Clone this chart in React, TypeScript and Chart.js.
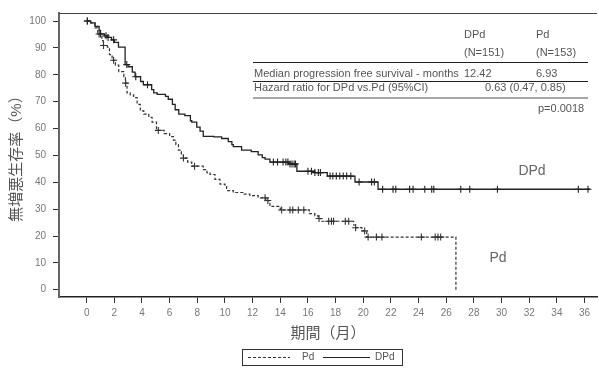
import React, { useEffect, useRef } from 'react';
import { Chart, registerables } from 'chart.js';

Chart.register(...registerables);

const FONT = '"Liberation Sans", "Noto Sans CJK JP", Arial, sans-serif';

// ---- data ----
const xTickValues = [0, 2, 4, 6, 8, 10, 12, 14, 16, 18, 20, 22, 24, 26, 28, 30, 32, 34, 36];
const yTickValues = [0, 10, 20, 30, 40, 50, 60, 70, 80, 90, 100];

const dpdLabel = 'DPd';
const pdLabel = 'Pd';

const dpdTimes = [0, 0.3, 0.6, 0.9, 1.0, 1.3, 1.5, 1.8, 2.0, 2.3, 2.78, 3.0, 3.3, 3.5, 3.9, 4.1, 4.7, 4.85, 5.1, 5.7, 5.9, 6.2, 6.4, 6.66, 7.1, 7.5, 7.6, 7.96, 8.2, 8.43, 9.2, 9.76, 10.24, 10.5, 10.6, 11.2, 11.9, 12.4, 12.7, 12.9, 13.25, 14.6, 15.2, 16.5, 17.4, 19.4, 21.07, 36.4];
const dpdSurv = [100, 99.3, 98.0, 96.5, 95.2, 94.5, 93.9, 93.0, 92.1, 90.3, 83.8, 83.0, 81.0, 79.3, 77.5, 76.3, 74.5, 73.3, 72.7, 72.0, 70.9, 69.0, 67.0, 65.4, 64.8, 62.9, 62.4, 60.5, 59.0, 57.1, 56.9, 56.3, 55.1, 54.0, 53.3, 52.0, 51.4, 50.2, 49.2, 48.6, 47.5, 46.8, 44.1, 43.6, 42.3, 40.1, 37.4, 37.4];
const dpdCensored = [0.05, 1.0, 1.4, 1.55, 1.95, 2.9, 3.55, 4.4, 13.5, 13.8, 14.2, 14.4, 14.55, 14.7, 14.85, 15.0, 15.1, 16.0, 16.25, 16.5, 16.75, 16.9, 17.6, 17.8, 18.05, 18.3, 18.55, 18.8, 19.1, 19.7, 20.6, 20.8, 21.4, 22.15, 22.35, 23.35, 23.6, 24.45, 24.95, 25.1, 27.05, 27.7, 29.7, 35.55, 36.25];

const pdTimes = [0, 0.3, 0.6, 0.8, 1.1, 1.2, 1.5, 1.65, 1.84, 2.08, 2.32, 2.69, 2.8, 2.92, 3.15, 3.4, 3.65, 3.88, 4.13, 4.49, 4.73, 5.05, 5.6, 6.0, 6.27, 6.45, 6.63, 6.85, 6.99, 7.3, 7.6, 8.43, 8.7, 8.92, 9.28, 9.64, 10.0, 10.12, 10.6, 11.3, 11.8, 12.4, 12.95, 13.25, 13.4, 14.0, 16.1, 16.5, 16.75, 17.0, 19.3, 19.45, 19.9, 20.25, 26.7];
const pdSurv = [100, 99.3, 97.5, 95.2, 92.7, 90.9, 90.3, 87.5, 85.4, 83.6, 81.2, 79.3, 76.9, 73.3, 72.5, 71.5, 69.0, 66.6, 65.4, 64.2, 62.4, 59.3, 58.1, 57.0, 55.7, 54.0, 52.0, 50.5, 49.0, 47.5, 46.0, 44.7, 43.5, 42.9, 41.1, 39.3, 38.7, 36.9, 36.2, 35.6, 35.0, 34.2, 33.2, 31.4, 31.0, 29.7, 28.3, 27.5, 26.5, 25.5, 24.1, 23.1, 21.9, 19.6, 0];
const pdCensored = [0.05, 0.9, 1.22, 1.95, 2.82, 5.18, 7.0, 7.8, 12.9, 13.1, 14.1, 14.7, 14.9, 15.3, 15.7, 16.8, 17.5, 17.7, 17.85, 18.7, 18.95, 19.45, 20.1, 20.35, 20.95, 21.35, 24.2, 25.2, 25.4, 25.6];

const tableHeader = ['DPd', 'Pd'];
const tableN = ['(N=151)', '(N=153)'];
const tableMedianLabel = 'Median progression free survival - months';
const tableMedian = ['12.42', '6.93'];
const tableHRLabel = 'Hazard ratio for DPd vs.Pd (95%CI)';
const tableHR = '0.63 (0.47, 0.85)';
const tableP = 'p=0.0018';

const yTitle = '無増悪生存率（%）';
const xTitle = '期間（月）';

function survAt(times: number[], surv: number[], t: number) {
  let s = surv[0];
  for (let i = 0; i < times.length; i++) {
    if (times[i] <= t) s = surv[i];
    else break;
  }
  return s;
}

function buildSeries(times: number[], surv: number[], censored: number[]) {
  const pts: { x: number; y: number; c: boolean }[] = times.map((t, i) => ({ x: t, y: surv[i], c: false }));
  censored.forEach((t) => pts.push({ x: t, y: survAt(times, surv, t), c: true }));
  pts.sort((a, b) => a.x - b.x || (a.c ? 1 : 0) - (b.c ? 1 : 0));
  return pts;
}

const decorPlugin = {
  id: 'decor',
  afterDraw(chart: any) {
    const ctx = chart.ctx as CanvasRenderingContext2D;
    const a = chart.chartArea;
    ctx.save();
    // top frame line
    ctx.strokeStyle = '#444';
    ctx.lineWidth = 1;
    ctx.beginPath();
    ctx.moveTo(a.left, a.top + 0.5);
    ctx.lineTo(a.right, a.top + 0.5);
    ctx.stroke();

    // table
    const c1 = 464;
    const c2 = 536;
    const lx = 254;
    ctx.fillStyle = '#555';
    ctx.font = `11px ${FONT}`;
    ctx.textBaseline = 'middle';
    ctx.textAlign = 'left';
    ctx.fillText(tableHeader[0], c1, 35);
    ctx.fillText(tableHeader[1], c2, 35);
    ctx.fillText(tableN[0], c1, 53);
    ctx.fillText(tableN[1], c2, 53);
    ctx.fillText(tableMedianLabel, lx, 74);
    ctx.fillText(tableMedian[0], c1, 74);
    ctx.fillText(tableMedian[1], c2, 74);
    ctx.fillText(tableHRLabel, lx, 88);
    ctx.fillText(tableHR, 485, 88);
    ctx.fillText(tableP, 538, 109);

    ctx.strokeStyle = '#222';
    ctx.lineWidth = 1;
    ctx.beginPath();
    ctx.moveTo(253, 62.5);
    ctx.lineTo(588, 62.5);
    ctx.moveTo(253, 81.5);
    ctx.lineTo(588, 81.5);
    ctx.stroke();
    ctx.strokeStyle = '#888';
    ctx.lineWidth = 1.5;
    ctx.beginPath();
    ctx.moveTo(253, 98);
    ctx.lineTo(588, 98);
    ctx.stroke();

    // curve labels
    ctx.fillStyle = '#666';
    ctx.font = `14px ${FONT}`;
    ctx.textAlign = 'center';
    ctx.fillText(dpdLabel, 532, 171);
    ctx.fillText(pdLabel, 498, 258);

    // legend
    const ds = chart.data.datasets;
    const bx = 242.5, by = 349.5, bw = 160, bh = 16;
    ctx.strokeStyle = '#333';
    ctx.lineWidth = 1;
    ctx.strokeRect(bx, by, bw, bh);
    const ly = by + bh / 2;
    ctx.font = `10px ${FONT}`;
    ctx.textAlign = 'left';
    ctx.fillStyle = '#555';
    // Pd item
    ctx.strokeStyle = ds[1].borderColor;
    ctx.lineWidth = 1;
    ctx.setLineDash(ds[1].borderDash);
    ctx.beginPath();
    ctx.moveTo(248, ly);
    ctx.lineTo(290, ly);
    ctx.stroke();
    ctx.setLineDash([]);
    ctx.fillText(ds[1].label, 302, ly);
    // DPd item
    ctx.strokeStyle = ds[0].borderColor;
    ctx.beginPath();
    ctx.moveTo(323, ly);
    ctx.lineTo(370, ly);
    ctx.stroke();
    ctx.fillText(ds[0].label, 375, ly);
    ctx.restore();
  },
};

export default function App() {
  const ref = useRef<HTMLCanvasElement>(null);
  useEffect(() => {
    if (!ref.current) return;
    const censorRadius = (ctx: any) => (ctx.raw && ctx.raw.c ? 3.5 : 0);
    const chart = new Chart(ref.current, {
      type: 'line',
      data: {
        datasets: [
          {
            label: dpdLabel,
            data: buildSeries(dpdTimes, dpdSurv, dpdCensored),
            borderColor: '#222',
            backgroundColor: '#222',
            borderWidth: 1.3,
            stepped: 'before',
            pointStyle: 'cross',
            pointRadius: censorRadius,
            pointBorderWidth: 1.1,
            pointBorderColor: '#222',
            fill: false,
          },
          {
            label: pdLabel,
            data: buildSeries(pdTimes, pdSurv, pdCensored),
            borderColor: '#333',
            backgroundColor: '#333',
            borderWidth: 1.2,
            borderDash: [3, 2],
            stepped: 'before',
            pointStyle: 'cross',
            pointRadius: censorRadius,
            pointBorderWidth: 1.1,
            pointBorderColor: '#333',
            fill: false,
          },
        ],
      } as any,
      options: {
        animation: false,
        responsive: false,
        devicePixelRatio: 1,
        events: [],
        layout: { padding: { left: 0, right: 2, top: 7, bottom: 0 } },
        plugins: {
          legend: { display: false },
          tooltip: { enabled: false },
        },
        scales: {
          x: {
            type: 'linear',
            min: -2,
            max: 36.9,
            afterBuildTicks: (scale: any) => {
              scale.ticks = xTickValues.map((v) => ({ value: v }));
            },
            afterFit: (scale: any) => {
              scale.height = 77;
            },
            grid: { drawOnChartArea: false, drawTicks: true, tickLength: 6, tickColor: '#333', tickWidth: 1 },
            border: { display: true, color: '#222', width: 1.5 },
            ticks: { color: '#777', font: { family: FONT, size: 10 }, padding: 4, maxRotation: 0, autoSkip: false },
            title: { display: true, text: xTitle, color: '#555', font: { family: FONT, size: 15 }, padding: { top: 0, bottom: 31 } },
          },
          y: {
            type: 'linear',
            min: -2.7,
            max: 103,
            afterBuildTicks: (scale: any) => {
              scale.ticks = yTickValues.map((v) => ({ value: v }));
            },
            afterFit: (scale: any) => {
              scale.width = 59;
            },
            grid: { drawOnChartArea: false, drawTicks: true, tickLength: 6, tickColor: '#333', tickWidth: 1 },
            border: { display: true, color: '#666', width: 2 },
            ticks: { color: '#777', font: { family: FONT, size: 10 }, padding: 7, autoSkip: false },
            title: { display: true, text: yTitle, color: '#555', font: { family: FONT, size: 15 }, padding: { top: 8, bottom: 0 } },
          },
        },
      } as any,
      plugins: [decorPlugin],
    });
    return () => chart.destroy();
  }, []);
  return (
    <div style={{ position: 'fixed', left: 0, top: 0, width: 599, height: 374, background: '#fff' }}>
      <canvas ref={ref} width={599} height={374} style={{ display: 'block', width: 599, height: 374 }} />
    </div>
  );
}
